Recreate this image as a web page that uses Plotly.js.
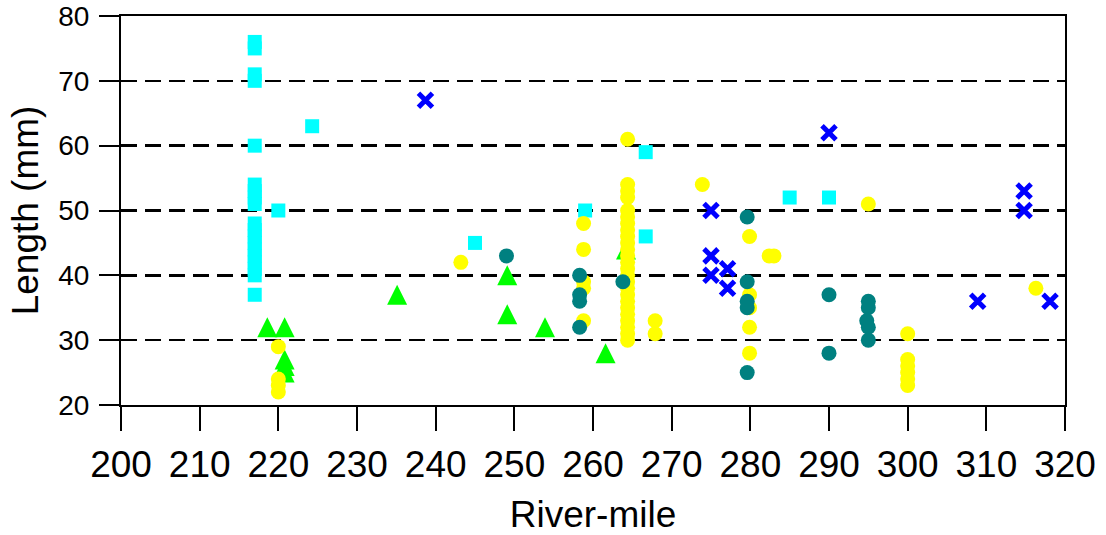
<!DOCTYPE html>
<html>
<head>
<meta charset="utf-8">
<script src="https://cdn.plot.ly/plotly-3.0.1.min.js"></script>
<style>
  html, body { margin: 0; padding: 0; background: #fff; }
  #chart { width: 1106px; height: 535px; }
</style>
</head>
<body>
<div id="chart"></div>
<script>
// ---- data (River-mile, Length mm) ----
var cyanX = [217, 217, 217, 217, 217, 217, 217, 217, 217, 217, 217, 217, 217, 217, 217, 217, 217, 217, 217,
  220, 224.3, 245, 259, 266.7, 266.7, 285, 290];
var cyanY = [76, 75, 71, 70, 60, 54, 53, 52, 51, 48, 47, 46, 45, 44, 43, 42, 41, 40, 37,
  50, 63, 45, 50, 59, 46, 52, 52];

var greenX = [218.6, 220.8, 220.8, 220.8, 220.8, 235.1, 249.1, 249.1, 253.9, 261.6, 264.2];
var greenY = [32, 32, 27, 26, 25, 37, 40, 34, 32, 28, 44];

var yellowX = [220, 220, 220, 220, 243.2, 258.8, 258.8, 258.8, 258.8, 258.8,
  264.4, 264.4, 264.4, 264.4, 264.4, 264.4, 264.4, 264.4, 264.4, 264.4, 264.4, 264.4, 264.4,
  264.4, 264.4, 264.4, 264.4, 264.4, 264.4, 264.4, 264.4, 264.4, 264.4, 264.4, 264.4,
  267.9, 267.9, 273.9, 279.9, 279.9, 279.9, 279.9, 279.9, 282.4, 283, 295, 300, 300, 300, 300, 300, 300, 316.3];
var yellowY = [29, 24, 23, 22, 42, 48, 44, 39, 38, 33,
  61, 54, 53, 52, 50, 49, 48, 47, 46, 45, 44, 43, 42,
  41, 40, 39, 38, 37, 36, 35, 34, 33, 32, 31, 30,
  33, 31, 54, 46, 37, 35, 32, 28, 43, 43, 51, 31, 27, 26, 25, 24, 23, 38];

var tealX = [249, 258.3, 258.3, 258.3, 258.3, 263.8, 279.6, 279.6, 279.6, 279.6, 279.6, 290, 290, 295, 295, 294.8, 295, 295];
var tealY = [43, 40, 37, 36, 32, 39, 49, 39, 36, 35, 25, 37, 28, 36, 35, 33, 32, 30];

var blueX = [238.7, 275, 275, 275, 277.1, 277.1, 290, 308.9, 314.8, 314.8, 318.1];
var blueY = [67, 50, 43, 40, 41, 38, 62, 36, 53, 50, 36];

var xTicks = [200, 210, 220, 230, 240, 250, 260, 270, 280, 290, 300, 310, 320];
var yTicks = [20, 30, 40, 50, 60, 70, 80];

// ---- layout geometry ----
var W = 1106, H = 535;
var M = { l: 121, r: 41, t: 16, b: 130 };
var yMin = 20, yMax = 80;
var triSize = 20;
var pxPerUnit = (H - M.t - M.b) / (yMax - yMin);
var triShift = (triSize / 2) / pxPerUnit; // centre arrow-up triangles on their value

var FONT = 'Liberation Sans, Arial, sans-serif';

var traces = [
  { x: cyanX, y: cyanY, type: 'scatter', mode: 'markers', yaxis: 'y',
    marker: { symbol: 'square', size: 14, color: '#00FFFF', line: { width: 0 } }, hoverinfo: 'x+y' },
  { x: greenX, y: greenY, type: 'scatter', mode: 'markers', yaxis: 'y2',
    marker: { symbol: 'arrow-up', size: triSize, color: '#00FF00', line: { width: 0 } }, hoverinfo: 'x+y' },
  { x: yellowX, y: yellowY, type: 'scatter', mode: 'markers', yaxis: 'y3',
    marker: { symbol: 'circle', size: 15, color: '#FFFF00', line: { width: 0 } }, hoverinfo: 'x+y' },
  { x: tealX, y: tealY, type: 'scatter', mode: 'markers', yaxis: 'y3',
    marker: { symbol: 'circle', size: 15, color: '#008080', line: { width: 0 } }, hoverinfo: 'x+y' },
  { x: blueX, y: blueY, type: 'scatter', mode: 'markers', yaxis: 'y3',
    marker: { symbol: 'x-thin-open', size: 14, color: '#0000FF', line: { width: 5, color: '#0000FF' } }, hoverinfo: 'x+y' }
];

var layout = {
  width: W, height: H,
  margin: M,
  paper_bgcolor: '#fff', plot_bgcolor: '#fff',
  showlegend: false,
  font: { family: FONT, color: '#000' },
  xaxis: {
    range: [200, 320], tickvals: xTicks, ticktext: xTicks.map(String),
    ticks: 'outside', ticklen: 24, tickwidth: 2, tickcolor: '#000',
    showline: true, linewidth: 2, linecolor: '#000', mirror: true,
    showgrid: false, zeroline: false,
    tickfont: { size: 37, family: FONT, color: '#000' },
    ticklabelstandoff: 2,
    title: { text: 'River-mile', font: { size: 37, family: FONT, color: '#000' }, standoff: 18 }
  },
  yaxis: {
    range: [yMin, yMax], tickvals: yTicks, ticktext: yTicks.map(String),
    ticks: 'outside', ticklen: 20, tickwidth: 2, tickcolor: '#000',
    showline: true, linewidth: 2, linecolor: '#000', mirror: true,
    showgrid: true, gridcolor: '#000', gridwidth: 2.5, griddash: '16px,8px',
    zeroline: false,
    tickfont: { size: 28, family: FONT, color: '#000' },
    ticklabelstandoff: 4,
    title: { text: 'Length (mm)', font: { size: 37, family: FONT, color: '#000' }, standoff: 8 }
  },
  yaxis2: {
    overlaying: 'y', range: [yMin - triShift, yMax - triShift],
    visible: false, showgrid: false, zeroline: false, fixedrange: true
  },
  yaxis3: {
    overlaying: 'y', range: [yMin, yMax],
    visible: false, showgrid: false, zeroline: false, fixedrange: true
  }
};

Plotly.newPlot('chart', traces, layout, { displayModeBar: false, staticPlot: true });
</script>
</body>
</html>
